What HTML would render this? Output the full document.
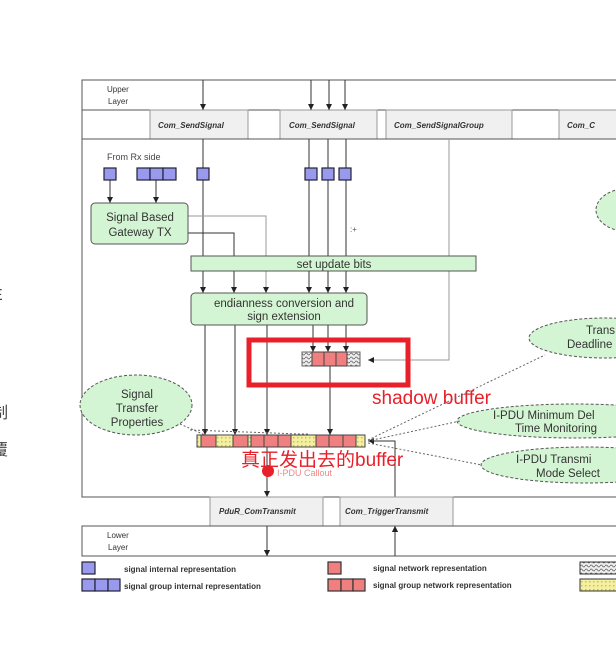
<!DOCTYPE html>
<html><head><meta charset="utf-8"><style>
html,body{margin:0;padding:0;background:#fff;width:616px;height:654px;overflow:hidden}
svg{display:block}
text{font-family:"Liberation Sans","Noto Sans CJK SC",sans-serif}
</style></head><body>
<svg width="616" height="654" viewBox="0 0 616 654" xmlns="http://www.w3.org/2000/svg">
<defs>
<marker id="a" markerWidth="6" markerHeight="6" refX="6" refY="3" orient="auto" markerUnits="userSpaceOnUse"><path d="M0,0 L6,3 L0,6 z" fill="#222"/></marker>
<pattern id="y" width="4" height="4" patternUnits="userSpaceOnUse"><rect width="4" height="4" fill="#f4f0a0"/><rect x="1" y="1" width="1.5" height="1.5" fill="#c8c060"/></pattern>
<pattern id="h" width="5" height="4" patternUnits="userSpaceOnUse"><rect width="5" height="4" fill="#eee"/><path d="M0,2 Q1.2,0 2.5,2 T5,2" stroke="#666" fill="none" stroke-width="0.8"/></pattern>
</defs>
<text x="-6" y="135" font-size="14" fill="#555">。</text>
<text x="-8" y="300" font-size="16" fill="#444">E</text>
<text x="-8" y="418" font-size="16" fill="#444">制</text>
<text x="-8" y="455" font-size="16" fill="#444">覆</text>

<rect x="82" y="80" width="540" height="30" fill="#fff" stroke="#555"/>
<text x="107" y="92" font-size="8" fill="#333">Upper</text>
<text x="108" y="104" font-size="8" fill="#333">Layer</text>
<rect x="82" y="110" width="540" height="29" fill="#fff" stroke="#555"/>
<g fill="#f0f0f0" stroke="#999">
<rect x="150" y="110" width="98" height="29"/>
<rect x="280" y="110" width="97" height="29"/>
<rect x="386" y="110" width="126" height="29"/>
<rect x="559" y="110" width="70" height="29"/>
</g>
<g font-size="8" font-weight="bold" font-style="italic" fill="#333">
<text x="158" y="128">Com_SendSignal</text>
<text x="289" y="128">Com_SendSignal</text>
<text x="394" y="128">Com_SendSignalGroup</text>
<text x="567" y="128">Com_C</text>
</g>
<rect x="82" y="139" width="540" height="358" fill="#fff" stroke="#555"/>

<g stroke="#333" stroke-width="1" fill="none">
<line x1="203" y1="80" x2="203" y2="110" marker-end="url(#a)"/>
<line x1="311" y1="80" x2="311" y2="110" marker-end="url(#a)"/>
<line x1="329" y1="80" x2="329" y2="110" marker-end="url(#a)"/>
<line x1="345" y1="80" x2="345" y2="110" marker-end="url(#a)"/>
<line x1="203" y1="139" x2="203" y2="293" marker-end="url(#a)"/>
<line x1="309" y1="139" x2="309" y2="293" marker-end="url(#a)"/>
<line x1="328" y1="139" x2="328" y2="293" marker-end="url(#a)"/>
<line x1="346" y1="139" x2="346" y2="293" marker-end="url(#a)"/>
<line x1="110" y1="180" x2="110" y2="203" marker-end="url(#a)"/>
<line x1="156" y1="180" x2="156" y2="203" marker-end="url(#a)"/>
<polyline points="188,216 266,216 266,293" stroke="#999" marker-end="url(#a)"/>
<polyline points="188,233 234,233 234,293" marker-end="url(#a)"/>
<polyline points="449,139 449,360 368,360" stroke="#999" marker-end="url(#a)"/>
<line x1="205" y1="325" x2="205" y2="435" marker-end="url(#a)"/>
<line x1="235" y1="325" x2="235" y2="435" marker-end="url(#a)"/>
<line x1="267" y1="325" x2="267" y2="435" marker-end="url(#a)"/>
<line x1="313" y1="325" x2="313" y2="352" marker-end="url(#a)"/>
<line x1="328" y1="325" x2="328" y2="352" marker-end="url(#a)"/>
<line x1="346" y1="325" x2="346" y2="352" marker-end="url(#a)"/>
<line x1="330" y1="366" x2="330" y2="435" marker-end="url(#a)"/>
<line x1="267" y1="447" x2="267" y2="497" marker-end="url(#a)"/>
<line x1="267" y1="526" x2="267" y2="556" marker-end="url(#a)"/>
<polyline points="395,497 395,441 368,441" marker-end="url(#a)"/>
<line x1="395" y1="556" x2="395" y2="526" marker-end="url(#a)"/>
</g>
<text x="350" y="232" font-size="8" fill="#555">:+</text>

<text x="107" y="160" font-size="9" fill="#444">From Rx side</text>
<g fill="#9999ee" stroke="#223" stroke-width="1.2">
<rect x="104" y="168" width="12" height="12"/>
<rect x="137" y="168" width="13" height="12"/><rect x="150" y="168" width="13" height="12"/><rect x="163" y="168" width="13" height="12"/>
<rect x="197" y="168" width="12" height="12"/>
<rect x="305" y="168" width="12" height="12"/><rect x="322" y="168" width="12" height="12"/><rect x="339" y="168" width="12" height="12"/>
</g>

<g fill="#d4f5d4" stroke="#555">
<rect x="91" y="203" width="97" height="41" rx="4"/>
<rect x="191" y="256" width="285" height="15"/>
<rect x="191" y="293" width="176" height="32" rx="4"/>
</g>
<g font-size="11.5" fill="#333" text-anchor="middle">
<text x="140" y="221">Signal Based</text>
<text x="140" y="236">Gateway TX</text>
<text x="334" y="268">set update bits</text>
<text x="284" y="307">endianness conversion and</text>
<text x="284" y="320">sign extension</text>
</g>

<rect x="302" y="352" width="58" height="14" fill="url(#h)" stroke="#666"/>
<g fill="#f08080" stroke="#444"><rect x="312" y="352" width="12" height="14"/><rect x="324" y="352" width="12" height="14"/><rect x="336" y="352" width="11" height="14"/></g>
<rect x="249" y="340" width="159" height="45" fill="none" stroke="#e8202a" stroke-width="5"/>
<text x="372" y="404" font-size="19" fill="#e8202a">shadow buffer</text>

<g fill="#d4f5d4" stroke="#555" stroke-dasharray="3,2">
<ellipse cx="136" cy="405" rx="56" ry="30"/>
<ellipse cx="630" cy="210" rx="34" ry="22"/>
<ellipse cx="605" cy="338" rx="76" ry="20"/>
<ellipse cx="575" cy="421" rx="118" ry="17"/>
<ellipse cx="585" cy="465" rx="104" ry="18"/>
</g>
<g font-size="11.5" fill="#333" text-anchor="middle">
<text x="137" y="398">Signal</text>
<text x="137" y="412">Transfer</text>
<text x="137" y="426">Properties</text>
</g>
<g font-size="11.5" fill="#333">
<text x="586" y="334">Trans</text>
<text x="567" y="348">Deadline</text>
<text x="493" y="419">I-PDU Minimum Del</text>
<text x="515" y="432">Time Monitoring</text>
<text x="516" y="463">I-PDU Transmi</text>
<text x="536" y="477">Mode Select</text>
</g>
<g stroke="#666" stroke-dasharray="2,2" fill="none">
<line x1="180" y1="424" x2="205" y2="435"/>
<polyline points="190,430 300,434 310,434"/>
<line x1="368" y1="440" x2="545" y2="355"/>
<line x1="368" y1="441" x2="460" y2="421"/>
<line x1="368" y1="443" x2="482" y2="465"/>
</g>

<rect x="197" y="435" width="168" height="12" fill="url(#y)" stroke="#444"/>
<g fill="#f08080" stroke="#444">
<rect x="201" y="435" width="15" height="12"/><rect x="233" y="435" width="15" height="12"/>
<rect x="251" y="435" width="13" height="12"/><rect x="264" y="435" width="14" height="12"/><rect x="278" y="435" width="13" height="12"/>
<rect x="316" y="435" width="13" height="12"/><rect x="329" y="435" width="14" height="12"/><rect x="343" y="435" width="13" height="12"/>
</g>
<circle cx="268" cy="471" r="6" fill="#e8202a"/>
<text x="277" y="476" font-size="9" fill="#e88">I-PDU Callout</text>
<text x="241" y="466" font-size="19" fill="#e8202a">真正发出去的buffer</text>

<g fill="#f0f0f0" stroke="#999">
<rect x="210" y="497" width="113" height="29"/>
<rect x="340" y="497" width="113" height="29"/>
</g>
<g font-size="8" font-weight="bold" font-style="italic" fill="#333">
<text x="219" y="514">PduR_ComTransmit</text>
<text x="345" y="514">Com_TriggerTransmit</text>
</g>
<rect x="82" y="526" width="540" height="30" fill="none" stroke="#555"/>
<text x="107" y="538" font-size="8" fill="#333">Lower</text>
<text x="108" y="550" font-size="8" fill="#333">Layer</text>
<line x1="267" y1="526" x2="267" y2="556" stroke="#333" marker-end="url(#a)"/>
<line x1="395" y1="556" x2="395" y2="526" stroke="#333" marker-end="url(#a)"/>

<g fill="#9999ee" stroke="#223" stroke-width="1.2">
<rect x="82" y="562" width="13" height="12"/>
<rect x="82" y="579" width="13" height="12"/><rect x="95" y="579" width="13" height="12"/><rect x="108" y="579" width="12" height="12"/>
</g>
<g fill="#f08080" stroke="#333" stroke-width="1.2">
<rect x="328" y="562" width="13" height="12"/>
<rect x="328" y="579" width="13" height="12"/><rect x="341" y="579" width="12" height="12"/><rect x="353" y="579" width="12" height="12"/>
</g>
<rect x="580" y="562" width="40" height="12" fill="url(#h)" stroke="#333"/>
<rect x="580" y="579" width="40" height="12" fill="url(#y)" stroke="#333"/>
<g font-size="8" font-weight="bold" fill="#333">
<text x="124" y="572">signal internal representation</text>
<text x="124" y="589">signal group internal representation</text>
<text x="373" y="571">signal network representation</text>
<text x="373" y="588">signal group network representation</text>
</g>
</svg>
</body></html>
